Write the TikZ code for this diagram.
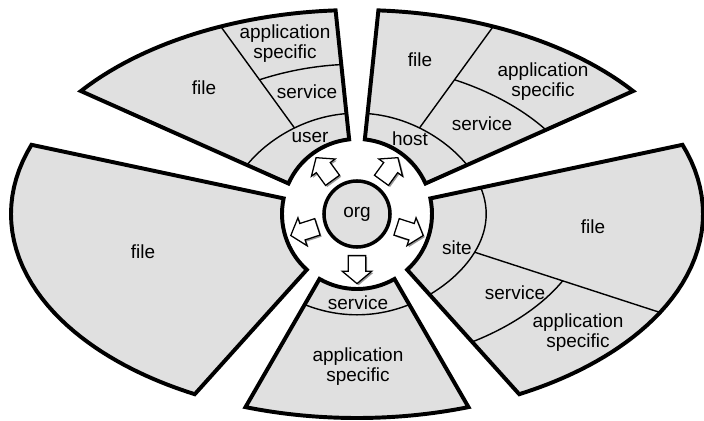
\documentclass[tikz,border=0pt]{standalone}
\usepackage{fontspec}
\setmainfont{Liberation Sans}
\usetikzlibrary{calc,shapes.arrows}
\definecolor{panel}{RGB}{224,224,224}
\definecolor{shade}{RGB}{150,150,150}

\begin{document}
\begin{tikzpicture}[x=0.025cm, y=0.025cm,
		declare function={rout(\t)=705.84/sqrt((2.04*cos(\t))^2+(3.46*sin(\t))^2); rb(\t,\f)=75+\f*(rout(\t)-75);},
		wedge/.style={draw, fill=panel, line width=2.8pt},
		split/.style={line width=1pt},
		lbl/.style={font=\fontsize{13.5}{14.2}\selectfont, align=center, inner sep=0pt},
		blockarrow/.style={single arrow, draw, fill=white, line width=0.9pt, minimum height=0.7cm, minimum width=0.7cm, inner sep=0.2cm, single arrow head extend=0.15cm, single arrow tip angle=100},
		arrowshadow/.style={blockarrow, draw=none, fill=shade}]
	\useasboundingbox (-357,-207) rectangle (347,214);

	\foreach \m [evaluate=\m as \lo using \m-30, evaluate=\m as \hi using \m+30] in {54,126,198,270,342}
		\draw[wedge] (\lo:75) -- plot[domain=\lo:\hi, samples=41] (\x:{rout(\x)}) -- (\hi:75) arc[start angle=\hi, end angle=\lo, radius=75] -- cycle;

	\foreach \m [evaluate=\m as \lo using \m-30, evaluate=\m as \hi using \m+30] in {54,126,270,342}
		\draw[split] plot[domain=\lo:\hi, samples=31] (\x:{rb(\x,0.2)});
	\foreach \m [evaluate=\m as \lo using \m-30] in {54,126,342} {
		\draw[split] (\m:{rb(\m,0.2)}) -- (\m:{rout(\m)});
		\draw[split] plot[domain=\lo:\m, samples=21] (\x:{rb(\x,0.58)});
	}

	\node[draw, circle, fill=panel, line width=2.5pt, minimum size=1.65cm, lbl] (org) at (0,0) {org};
	\foreach \a [count=\i] in {54,126,198,270,342} {
		\node[arrowshadow, rotate=\a] (sh\i) at ($(\a:52)+(1.6,-1.6)$) {};
		\node[blockarrow, rotate=\a] (ar\i) at (\a:52) {};
	}

	\node[lbl] (userlbl) at (-47,77) {user};
	\node[lbl] (usersvc) at (-50,122) {service};
	\node[lbl] (userapp) at (-72,170) {application\\specific};
	\node[lbl] (userfile) at (-153,126) {file};
	\node[lbl] (hostlbl) at (53,75) {host};
	\node[lbl] (hostfile) at (63,154) {file};
	\node[lbl] (hostsvc) at (125,90) {service};
	\node[lbl] (hostapp) at (186,132) {application\\specific};
	\node[lbl] (sitelbl) at (100,-34) {site};
	\node[lbl] (sitefile) at (236,-13) {file};
	\node[lbl] (sitesvc) at (158,-79) {service};
	\node[lbl] (siteapp) at (221,-119) {application\\specific};
	\node[lbl] (svclbl) at (1,-89) {service};
	\node[lbl] (svcapp) at (1,-153) {application\\specific};
	\node[lbl] (leftfile) at (-214,-38) {file};
\end{tikzpicture}
\end{document}
